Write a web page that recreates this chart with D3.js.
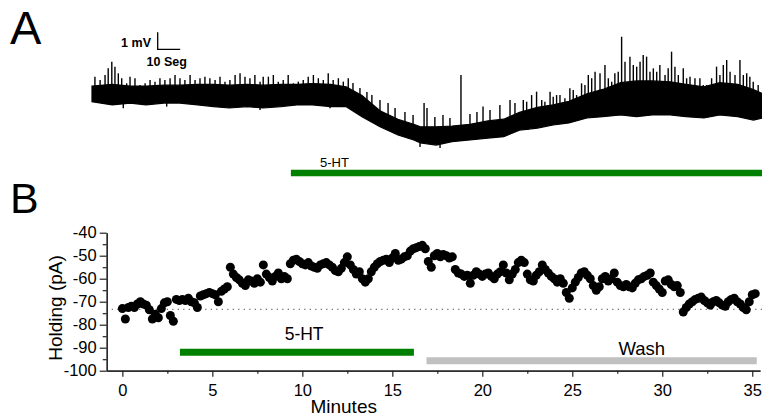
<!DOCTYPE html>
<html>
<head>
<meta charset="utf-8">
<script src="https://cdnjs.cloudflare.com/ajax/libs/d3/7.8.5/d3.min.js"></script>
<style>
body { margin: 0; background: #fff; }
svg { display: block; font-family: Arial, "Liberation Sans", sans-serif; }
</style>
</head>
<body>
<script>
// ---- panel A: membrane potential trace (seconds, mV), core band of the recording
const traceT = [0, 9, 17, 24, 32, 39, 47, 54, 61, 69, 76, 84, 91, 98, 106, 113, 120, 128, 136, 143, 146, 153, 160, 168, 176, 183, 190, 198, 205, 212, 220, 227, 235, 242, 249, 257, 264, 272, 279, 287, 294, 298];
const traceHi = [0.35, 0.45, 0.35, 0.35, 0.4, 0.4, 0.45, 0.45, 0.4, 0.45, 0.4, 0.45, 0.45, 0.5, 0.45, 0.3, -0.2, -1.1, -1.6, -1.9, -2.05, -2.05, -2.0, -1.9, -1.7, -1.6, -1.2, -0.9, -0.75, -0.55, -0.1, 0.15, 0.55, 0.65, 0.65, 0.6, 0.45, 0.3, 0.55, 0.45, 0.15, -0.1];
const traceLo = [-0.57, -0.76, -0.65, -0.76, -0.65, -0.65, -0.76, -0.86, -0.94, -0.86, -0.94, -0.86, -0.76, -0.76, -0.86, -0.86, -1.45, -2.04, -2.53, -2.82, -3.0, -3.12, -2.92, -2.82, -2.71, -2.63, -2.24, -2.12, -1.94, -1.82, -1.53, -1.45, -1.35, -1.45, -1.35, -1.35, -1.45, -1.53, -1.35, -1.45, -1.65, -1.53];
// spike peaks (s, mV)
const spikeT = [1.3, 3.6, 5.8, 7.2, 8.8, 10.2, 11.7, 13.2, 15.4, 16.9, 19.1, 21.3, 23.6, 25.8, 28.0, 30.2, 32.4, 34.7, 36.9, 39.1, 41.3, 43.6, 45.8, 48.0, 50.2, 52.4, 54.7, 56.9, 59.1, 61.3, 63.6, 65.8, 68.0, 70.2, 72.4, 74.7, 76.1, 78.4, 80.6, 82.8, 85.0, 87.2, 89.5, 91.7, 93.9, 96.1, 98.4, 100.6, 102.8, 105.0, 107.2, 109.5, 111.7, 113.9,
  116.0, 119.1, 122.2, 124.4, 128.0, 131.6, 134.7, 139.1, 142.7, 147.6, 148.9, 152.4, 156.0, 159.1, 164.0, 168.0, 171.1, 173.8, 176.9, 181.3, 185.8, 188.0,
  191.7, 193.2, 195.4, 197.6, 199.9, 201.3, 203.6, 205.0, 206.5, 208.0, 210.2, 212.4, 213.9, 215.4, 217.6, 219.1, 220.6, 222.1, 223.6, 225.8, 228.0, 229.5, 231.0, 232.4, 233.9, 235.4, 236.9, 239.1, 240.6, 242.1, 243.6, 245.0, 246.5, 248.0, 249.5, 251.0, 252.4, 254.7, 256.1, 257.6, 259.1, 260.6, 262.8, 264.3, 265.8, 268.0, 270.2, 271.7, 273.2, 275.4, 277.6, 279.1, 280.6, 282.1, 283.6, 285.8, 288.0, 289.5, 291.0, 292.4, 293.9, 296.1];
const spikeV = [0.90, 0.71, 1.00, 1.39, 1.78, 1.49, 1.10, 0.81, 0.51, 0.90, 0.81, 0.41, 0.51, 0.71, 0.61, 0.81, 0.71, 0.81, 1.00, 0.81, 0.71, 1.00, 0.71, 0.81, 0.90, 0.81, 0.71, 0.90, 0.61, 0.71, 1.00, 1.10, 0.90, 0.81, 1.00, 0.61, 0.90, 0.90, 1.00, 0.61, 0.71, 1.00, 0.51, 0.61, 0.71, 0.90, 1.00, 0.81, 0.71, 1.10, 0.71, 0.81, 0.61, 0.81,
  0.53, 0.24, 0.00, -0.18, -0.47, -0.65, -0.94, -1.18, -1.35, -0.65, -0.94, -1.47, -1.35, -1.53, 1.00, -1.29, -1.18, -0.86, -1.06, -0.76, -0.47, -0.65,
  -0.47, -0.57, -0.18, 0.02, -0.47, -0.57, 0.02, -0.28, -0.18, -0.18, -0.37, 0.22, 0.12, -0.18, 0.51, 0.41, 1.00, 0.81, 1.19, 1.10, 1.59, 0.81, 0.61, 1.10, 1.19, 3.25, 1.78, 2.08, 1.59, 1.49, 1.78, 2.18, 2.08, 1.19, 1.39, 1.19, 1.59, 1.00, 1.39, 2.37, 1.49, 1.00, 1.39, 0.81, 0.90, 0.81, 0.81, 0.41, 0.41, 0.81, 1.49, 1.00, 1.59, 1.88, 1.19, 1.00, 1.88, 1.00, 1.10, 0.90, 0.61, 0.41];
// downward deflections (s, mV)
const dipT = [13.9, 33.2, 74.7, 105.8, 145.8, 154.7, 193.8];
const dipV = [-0.96, -0.86, -1.06, -0.96, -3.24, -3.29, -2.24];
const drugA = [88.4, 297.8]; // 5-HT on, seconds

// ---- panel B: holding current, one point every 10 s
const sampleSec = 10;
const holding = [
  -73, -77.5, -72.5, -72, -72.5, -71,
  -70, -71, -71.5, -73.5, -77.5, -75.5,
  -77, -73, -70.5, -70, -76, -78.5,
  -69, -69.5, -69, -69.5, -68.5, -70,
  -70.5, -72.5, -67.5, -67, -66.5, -66,
  -66.5, -67, -70, -65.5, -64.5, -63.5,
  -55, -58, -59.5, -60.5, -62, -63,
  -60.5, -61, -62, -60, -61.5, -54,
  -58, -59.5, -61, -59, -57.5, -60,
  -59, -60, -53.5, -52, -51.5, -52.5,
  -53.5, -54, -53, -54.5, -55, -55.5,
  -54, -53.5, -53, -54, -55, -56.5,
  -57, -55.5, -53, -50.5, -54, -56,
  -58, -57, -60, -61.5, -60, -57,
  -55, -53.5, -52.5, -52, -51.5, -53,
  -51, -49, -52, -51.5, -50.5, -50,
  -48, -47, -46.5, -46, -45.5, -47,
  -52.5, -55, -50, -49, -50.5, -49.5,
  -50, -51, -50.5, -56, -57.5, -58,
  -59, -58.5, -62, -58.5, -57, -58,
  -59, -58, -57.5, -59, -60, -58,
  -57, -54, -57.5, -60.5, -58, -56,
  -53, -52, -53, -58, -60.5, -61,
  -58.5, -57, -54, -56, -57.5, -59,
  -60, -61.5, -60, -62, -66, -68.5,
  -64, -61.5, -59.5, -57.5, -57, -58.5,
  -60, -63, -65, -63.5, -60, -59,
  -61, -60, -57.5, -61.5, -63, -63.5,
  -62.5, -63.5, -64, -62, -60.5, -60,
  -59, -58.5, -57.5, -61.5, -63, -64.5,
  -66, -61, -60.5, -62.5, -63.5, -63,
  -66, -74.5, -72.5, -71, -70, -69,
  -68.5, -68, -69.5, -70.5, -71.5, -70,
  -69.5, -70.5, -71.5, -72, -70, -69,
  -68.5, -70, -71, -72.5, -73.5, -70,
  -67, -66.5
];
const baselineB = -73.3;
const drugB = [3.2, 16.2];   // 5-HT, minutes
const washB = [16.9, 35.25]; // wash, minutes
const xTicks = [0, 5, 10, 15, 20, 25, 30, 35];
const xMinor = [2.5, 7.5, 12.5, 17.5, 22.5, 27.5, 32.5];
const yTicks = [-100, -90, -80, -70, -60, -50, -40];
const yMinor = [-95, -85, -75, -65, -55, -45];

const points = holding.map((v, i) => ({ t: i * sampleSec / 60, v: v }));

const svg = d3.select("body").append("svg").attr("width", 762).attr("height", 417);

// ================= panel A =================
const xA = d3.scaleLinear().domain([0, 297.8]).range([92, 762]);
const yA = d3.scaleLinear().domain([0, 1]).range([92, 75]); // 1 mV = 17 px

svg.append("text").attr("x", 10).attr("y", 44).attr("font-size", 47).text("A");

const area = d3.area()
  .x((d, i) => xA(traceT[i]))
  .y0((d, i) => yA(traceLo[i]))
  .y1((d, i) => yA(traceHi[i]));
svg.append("path").datum(traceT).attr("d", area)
  .attr("fill", "#000").attr("stroke", "#000").attr("stroke-width", 1.2);

function coreMid(t) {
  const i = d3.bisectCenter(traceT, t);
  return (traceHi[i] + traceLo[i]) / 2;
}
svg.append("g").selectAll("line")
  .data(spikeT).enter().append("line")
  .attr("x1", d => xA(d)).attr("x2", d => xA(d))
  .attr("y1", d => yA(coreMid(d)))
  .attr("y2", (d, i) => yA(spikeV[i]))
  .attr("stroke", "#000").attr("stroke-width", 1.4);
svg.append("g").selectAll("line")
  .data(dipT).enter().append("line")
  .attr("x1", d => xA(d)).attr("x2", d => xA(d))
  .attr("y1", d => yA(coreMid(d)))
  .attr("y2", (d, i) => yA(dipV[i]))
  .attr("stroke", "#000").attr("stroke-width", 1.4);

// scale bar 1 mV / 10 s
const sbX = 157.7, sbY = 49.3;
svg.append("path")
  .attr("d", `M${sbX},${sbY - (yA(0) - yA(1))}V${sbY}H${sbX + xA(10) - xA(0)}`)
  .attr("fill", "none").attr("stroke", "#000").attr("stroke-width", 1.3);
svg.append("text").attr("x", 151).attr("y", 46.5).attr("text-anchor", "end")
  .attr("font-size", 12.5).attr("font-weight", "bold").text("1 mV");
svg.append("text").attr("x", 146.5).attr("y", 66).attr("font-size", 12.5)
  .attr("font-weight", "bold").text("10 Seg");

svg.append("line").attr("x1", xA(drugA[0])).attr("x2", xA(drugA[1]))
  .attr("y1", 173).attr("y2", 173).attr("stroke", "#008000").attr("stroke-width", 6.5);
svg.append("text").attr("x", 320).attr("y", 166.5).attr("font-size", 13).text("5-HT");

// ================= panel B =================
const xB = d3.scaleLinear().domain([-0.87, 35.43]).range([106.7, 760]);
const yB = d3.scaleLinear().domain([-100, -40]).range([370.7, 232.7]);

svg.append("text").attr("x", 10).attr("y", 213.3).attr("font-size", 43).text("B");

function styleAxis(g) {
  g.attr("font-size", 16.5).attr("font-family", "Arial, 'Liberation Sans', sans-serif").attr("color", "#222");
  g.selectAll("path, line").attr("stroke-width", 1.2);
  g.selectAll("text").attr("fill", "#000");
}

svg.append("g").attr("transform", `translate(0,${yB(-100)})`)
  .call(d3.axisBottom(xB).tickValues(xMinor).tickSize(3).tickSizeOuter(0).tickFormat(""))
  .call(styleAxis);
svg.append("g").attr("transform", `translate(0,${yB(-100)})`)
  .call(d3.axisBottom(xB).tickValues(xTicks).tickSize(6).tickPadding(8).tickSizeOuter(0).tickFormat(d => String(d)))
  .call(styleAxis);

svg.append("g").attr("transform", `translate(${xB.range()[0]},0)`)
  .call(d3.axisLeft(yB).tickValues(yMinor).tickSize(4).tickSizeOuter(0).tickFormat(""))
  .call(styleAxis);
svg.append("g").attr("transform", `translate(${xB.range()[0]},0)`)
  .call(d3.axisLeft(yB).tickValues(yTicks).tickSize(7).tickPadding(3).tickSizeOuter(0).tickFormat(d => String(d)))
  .call(styleAxis);

// dotted baseline
svg.append("line").attr("x1", xB(-0.59)).attr("x2", 762)
  .attr("y1", yB(baselineB)).attr("y2", yB(baselineB))
  .attr("stroke", "#444").attr("stroke-width", 1).attr("stroke-dasharray", "1.2,4.3");

svg.append("g").selectAll("circle")
  .data(points).enter().append("circle")
  .attr("cx", d => xB(d.t)).attr("cy", d => yB(d.v)).attr("r", 4.5)
  .attr("fill", "#000");

// treatment bars
svg.append("line").attr("x1", xB(drugB[0])).attr("x2", xB(drugB[1]))
  .attr("y1", yB(-92)).attr("y2", yB(-92)).attr("stroke", "#008000").attr("stroke-width", 7);
svg.append("text").attr("x", xB(10.1)).attr("y", 339.5).attr("text-anchor", "middle")
  .attr("font-size", 17.5).text("5-HT");
svg.append("line").attr("x1", xB(washB[0])).attr("x2", xB(washB[1]))
  .attr("y1", yB(-95.7)).attr("y2", yB(-95.7)).attr("stroke", "#c0c0c0").attr("stroke-width", 7);
svg.append("text").attr("x", xB(28.86)).attr("y", 355).attr("text-anchor", "middle")
  .attr("font-size", 18.5).text("Wash");

// axis titles
svg.append("text").attr("x", 343.7).attr("y", 412.7).attr("text-anchor", "middle")
  .attr("font-size", 19).text("Minutes");
svg.append("text").attr("transform", "translate(61.7,308) rotate(-90)")
  .attr("text-anchor", "middle").attr("font-size", 19).text("Holding (pA)");
</script>
</body>
</html>
